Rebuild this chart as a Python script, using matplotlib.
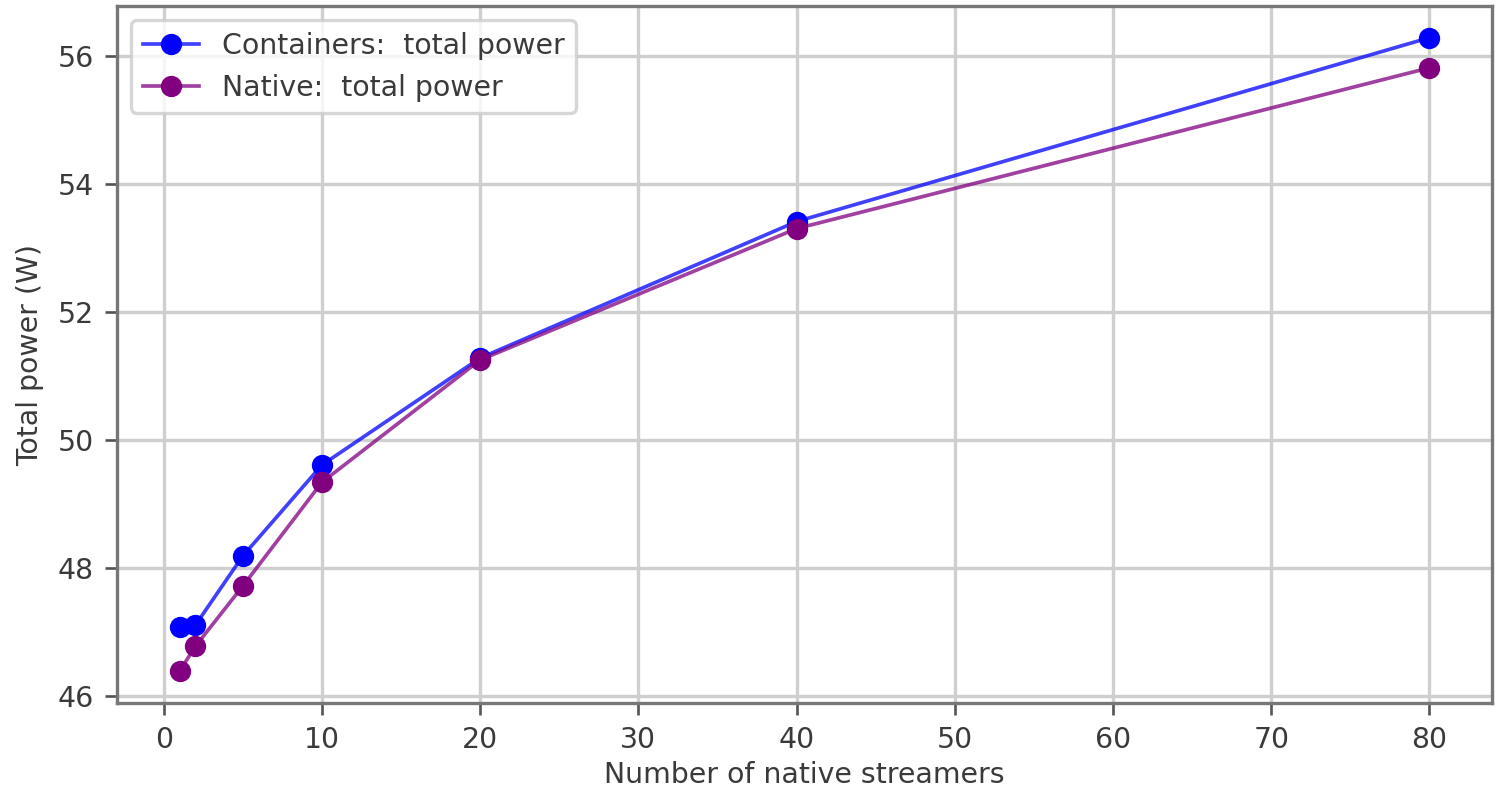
import matplotlib
matplotlib.use("Agg")
import matplotlib.pyplot as plt

streamers = [1, 2, 5, 10, 20, 40, 80]
containers_power = [47.08, 47.11, 48.19, 49.61, 51.28, 53.41, 56.28]
native_power = [46.39, 46.78, 47.72, 49.34, 51.25, 53.30, 55.81]

plt.rcParams['font.size'] = 8.5
txt = '#3a3a3a'
plt.rcParams['text.color'] = txt
plt.rcParams['axes.labelcolor'] = txt
plt.rcParams['xtick.color'] = '#555555'
plt.rcParams['ytick.color'] = '#555555'
plt.rcParams['xtick.labelcolor'] = txt
plt.rcParams['ytick.labelcolor'] = txt

fig = plt.figure(figsize=(1504/240, 789/240), dpi=240)
ax = fig.add_axes([117/1504, 1-703/789, (1492-117)/1504, (703-6)/789])

ax.plot(streamers, containers_power, '-o', color=(0, 0, 1, 0.75),
        markerfacecolor='blue', markeredgecolor='blue', markersize=5.4,
        linewidth=1.1, label='Containers:  total power')
ax.plot(streamers, native_power, '-o', color=(0.5, 0, 0.5, 0.75),
        markerfacecolor='purple', markeredgecolor='purple', markersize=5.4,
        linewidth=1.1, label='Native:  total power')

for s in ax.spines.values():
    s.set_color('#777777')
    s.set_linewidth(1.0)

ax.set_xlabel('Number of native streamers', labelpad=2)
ax.set_ylabel('Total power (W)')
ax.set_xticks(range(0, 81, 10))
ax.set_yticks(range(46, 57, 2))
ax.grid(True, color='#cfcfcf', linewidth=1.0)
ax.legend(loc='upper left', borderaxespad=0.5)

fig.savefig('out.png', dpi=240)
